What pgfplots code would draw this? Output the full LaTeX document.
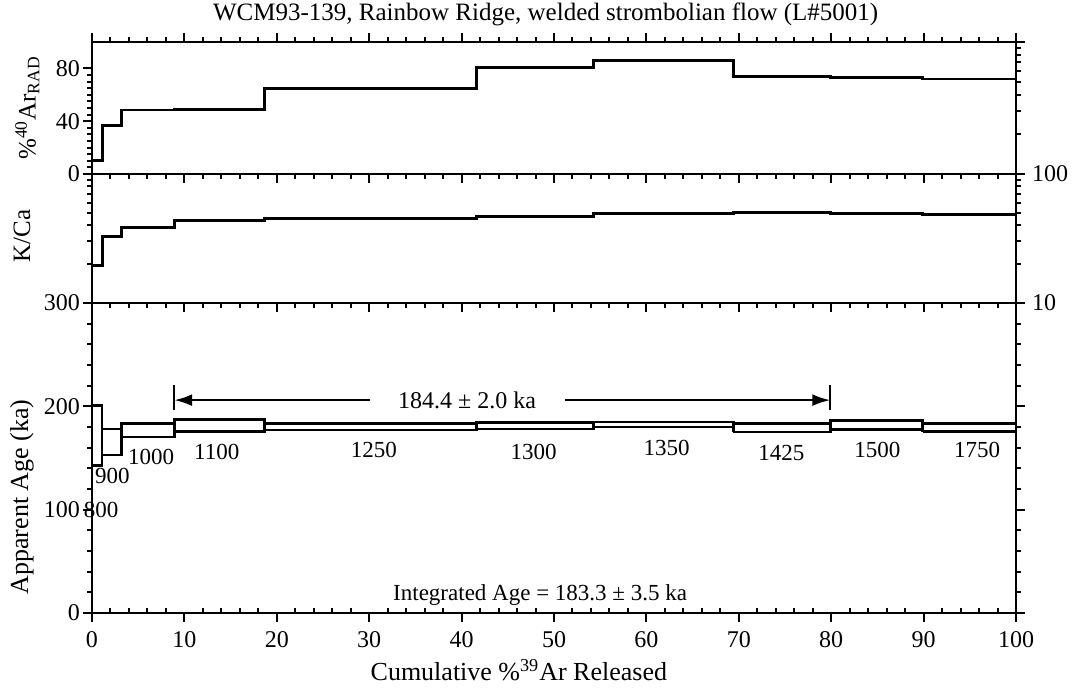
\documentclass[border=0pt]{standalone}
\usepackage{fontspec}
\setmainfont{Liberation Serif}
\usepackage{pgfplots}
\pgfplotsset{compat=1.18}
\usetikzlibrary{arrows.meta}
\pgfplotsset{
  every axis/.append style={
    scale only axis, width=462pt, xmin=0, xmax=100,
    axis line style={line width=1.2pt},
    tick style={line width=1pt, black},
    major tick length=4.5pt, minor tick length=2.5pt,
    tick align=outside,
    /pgf/number format/assume math mode=true,
    tick label style={font=\fontsize{12}{14}\selectfont},
    clip=false,
  },
}
\begin{document}
\begin{tikzpicture}
\useasboundingbox (-46pt,-38pt) rectangle (492pt,306.5pt);

% ---------------- Age spectrum panel ----------------
\begin{axis}[at={(0,0)}, anchor=south west, height=155pt,
  ymin=0, ymax=300, ytick={0,100,200,300}, minor y tick num=4,
  yticklabel pos=left, yticklabel style={xshift=2pt},
  xtick={0,10,...,100}, minor x tick num=4, xtick pos=bottom,
  minor x tick style={yshift=2.5pt},
  xticklabel style={yshift=-1pt},
  xlabel={Cumulative \%\textsuperscript{39}Ar Released},
  xlabel style={at={(axis description cs:0.462,0)}, anchor=center, yshift=-28.5pt, font=\fontsize{13}{15}\selectfont},
  ylabel={Apparent Age (ka)},
  ylabel style={at={(axis description cs:-0.0758,0.374)}, anchor=center, font=\fontsize{13}{15}\selectfont},
]
\addplot[black, line width=1.3pt, line join=miter] coordinates {(0,143) (1.1,143) (1.1,201) (0,201) (0,143)};
\addplot[black, line width=1.3pt, line join=miter] coordinates {(1.1,153) (3.2,153) (3.2,178) (1.1,178) (1.1,153)};
\addplot[black, line width=1.3pt, line join=miter] coordinates {(3.2,170.5) (8.9,170.5) (8.9,183.5) (3.2,183.5) (3.2,170.5)};
\addplot[black, line width=1.3pt, line join=miter] coordinates {(8.9,175.5) (18.7,175.5) (18.7,187.5) (8.9,187.5) (8.9,175.5)};
\addplot[black, line width=1.3pt, line join=miter] coordinates {(18.7,177) (41.6,177) (41.6,183.5) (18.7,183.5) (18.7,177)};
\addplot[black, line width=1.3pt, line join=miter] coordinates {(41.6,178) (54.3,178) (54.3,184.5) (41.6,184.5) (41.6,178)};
\addplot[black, line width=1.3pt, line join=miter] coordinates {(54.3,180) (69.4,180) (69.4,185) (54.3,185) (54.3,180)};
\addplot[black, line width=1.3pt, line join=miter] coordinates {(69.4,175) (79.9,175) (79.9,183.5) (69.4,183.5) (69.4,175)};
\addplot[black, line width=1.3pt, line join=miter] coordinates {(79.9,177.5) (89.9,177.5) (89.9,186) (79.9,186) (79.9,177.5)};
\addplot[black, line width=1.3pt, line join=miter] coordinates {(89.9,175.5) (100,175.5) (100,183.5) (89.9,183.5) (89.9,175.5)};
\begin{scope}[font=\fontsize{11.5}{13}\selectfont]
\node at (axis cs:1.0,100) {800};
\node at (axis cs:2.2,133) {900};
\node at (axis cs:6.4,151) {1000};
\node at (axis cs:13.5,156) {1100};
\node at (axis cs:30.5,158) {1250};
\node at (axis cs:47.8,156) {1300};
\node at (axis cs:62.2,160) {1350};
\node at (axis cs:74.6,155) {1425};
\node at (axis cs:85,158) {1500};
\node at (axis cs:95.8,158) {1750};
\node at (axis cs:48.5,17.5) {Integrated Age = 183.3 ± 3.5 ka};
\end{scope}
\draw[line width=1.2pt, -{Latex[length=9pt,width=6pt]}] (axis cs:30.1,206) -- (axis cs:8.9,206);
\draw[line width=1.2pt, -{Latex[length=9pt,width=6pt]}] (axis cs:51.2,206) -- (axis cs:79.9,206);
\draw[line width=1.2pt] (axis cs:8.9,196) -- (axis cs:8.9,221);
\draw[line width=1.2pt] (axis cs:79.9,196) -- (axis cs:79.9,221);
\node[font=\fontsize{12}{14}\selectfont] at (axis cs:40.6,206) {184.4 ± 2.0 ka};
\end{axis}

% ---------------- K/Ca panel ----------------
\begin{axis}[at={(0,155pt)}, anchor=south west, height=64.5pt,
  ymode=log, ymin=10, ymax=100, ytick={10,100}, yticklabels={10,100},
  minor ytick={20,30,40,50,60,70,80,90},
  yticklabel pos=right,
  xtick={0,10,...,100}, minor x tick num=4, xtick pos=bottom, xticklabels={},
  ylabel={K/Ca},
  ylabel style={at={(axis description cs:-0.0758,0.52)}, anchor=center, font=\fontsize{12.5}{15}\selectfont},
]
\addplot[const plot, black, line width=1.4pt] coordinates {
(0,19.4) (1.1,33) (3.2,38.5) (8.9,43.5) (18.7,45.5) (41.6,47) (54.3,49.5) (69.4,50) (79.9,49.5) (89.9,48.5) (100,48.5)};
\end{axis}

% ---------------- %40Ar* panel ----------------
\begin{axis}[at={(0,219.5pt)}, anchor=south west, height=66pt,
  ymin=0, ymax=100, ytick={0,40,80}, minor y tick num=7, ytick pos=left,
  yticklabel style={xshift=2pt},
  xtick={0,10,...,100}, minor x tick num=4, xticklabels={},
  ylabel={\%\textsuperscript{40}Ar\textsubscript{RAD}},
  ylabel style={at={(axis description cs:-0.07,0.5)}, anchor=center, font=\fontsize{12.5}{15}\selectfont},
  title={WCM93-139, Rainbow Ridge, welded strombolian flow (L\#5001)},
  title style={at={(axis description cs:0.491,1)}, anchor=center, yshift=8pt, font=\fontsize{12.5}{15}\selectfont},
]
\addplot[const plot, black, line width=1.4pt] coordinates {
(0,10) (1.1,37) (3.2,48.5) (8.9,49) (18.7,65) (41.6,80.5) (54.3,86) (69.4,74) (79.9,73) (89.9,72) (100,72)};
\end{axis}
\begin{axis}[at={(0,219.5pt)}, anchor=south west, height=66pt,
  ymode=log, ymin=100, ymax=1000, ytick pos=right,
  ytick={100,1000}, minor ytick={200,300,400,500,600,700,800,900},
  yticklabels={},
  xtick=\empty,
]
\end{axis}
\end{tikzpicture}
\end{document}
